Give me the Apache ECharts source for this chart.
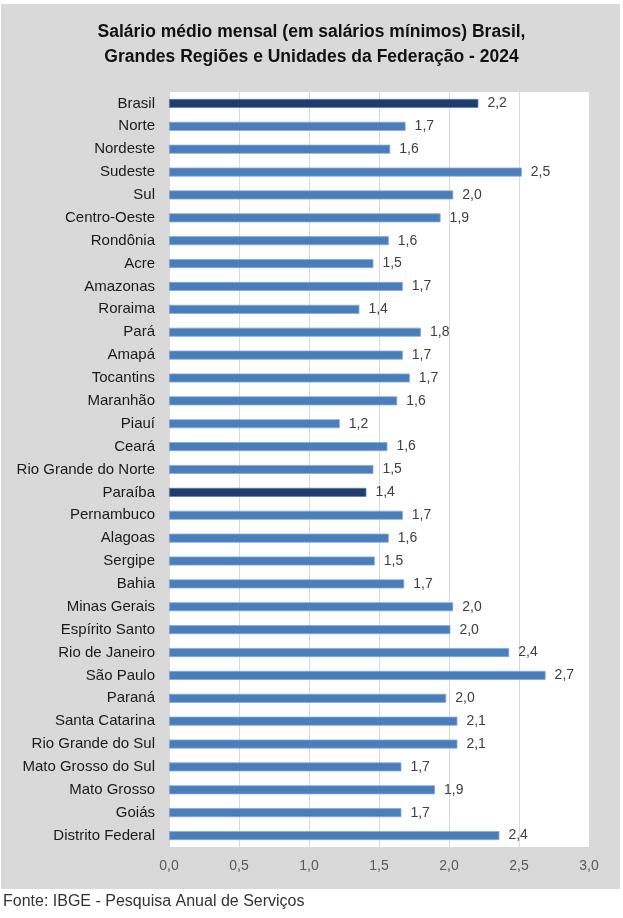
<!DOCTYPE html>
<html lang="pt">
<head>
    <meta charset="UTF-8">
    <title>Salário médio mensal</title>
    <style>
        html, body { margin: 0; padding: 0; background: #fff; }
        #chart { width: 623px; height: 918px; }
    </style>
    <script src="https://cdn.jsdelivr.net/npm/echarts@6/dist/echarts.min.js"></script>
</head>
<body>
    <div id="chart"></div>
    <script>
        // dados
        var regioes = ['Brasil', 'Norte', 'Nordeste', 'Sudeste', 'Sul', 'Centro-Oeste',
            'Rondônia', 'Acre', 'Amazonas', 'Roraima', 'Pará', 'Amapá', 'Tocantins',
            'Maranhão', 'Piauí', 'Ceará', 'Rio Grande do Norte', 'Paraíba', 'Pernambuco',
            'Alagoas', 'Sergipe', 'Bahia', 'Minas Gerais', 'Espírito Santo', 'Rio de Janeiro',
            'São Paulo', 'Paraná', 'Santa Catarina', 'Rio Grande do Sul', 'Mato Grosso do Sul',
            'Mato Grosso', 'Goiás', 'Distrito Federal'];
        var salarios = [2.21, 1.69, 1.58, 2.52, 2.03, 1.94,
            1.57, 1.46, 1.67, 1.36, 1.80, 1.67, 1.72,
            1.63, 1.22, 1.56, 1.46, 1.41, 1.67,
            1.57, 1.47, 1.68, 2.03, 2.01, 2.43,
            2.69, 1.98, 2.06, 2.06, 1.66,
            1.90, 1.66, 2.36];
        var destaques = ['Brasil', 'Paraíba'];
        var xTicks = [0, 0.5, 1, 1.5, 2, 2.5, 3];

        function virgula(v) {
            return v.toFixed(1).replace('.', ',');
        }

        var chart = echarts.init(document.getElementById('chart'));

        var dados = salarios.map(function (v, i) {
            var item = { value: v };
            if (destaques.indexOf(regioes[i]) >= 0) {
                item.itemStyle = { color: '#1f3e6e', borderColor: '#5d7fae' };
            }
            return item;
        });

        var option = {
            backgroundColor: '#fff',
            animation: false,
            textStyle: { fontFamily: 'Liberation Sans' },
            graphic: [
                {
                    type: 'rect', z: -10,
                    shape: { x: 1, y: 4, width: 619, height: 885 },
                    style: { fill: '#d9d9d9' }
                },
                {
                    type: 'text', left: 3, top: 894,
                    style: {
                        text: 'Fonte: IBGE - Pesquisa Anual de Serviços',
                        fill: '#333', font: '16px "Liberation Sans"'
                    }
                }
            ],
            title: {
                text: 'Salário médio mensal (em salários mínimos) Brasil,\nGrandes Regiões e Unidades da Federação - 2024',
                left: 'center',
                top: 15,
                textStyle: {
                    fontSize: 17.5, fontWeight: 'bold', color: '#111',
                    lineHeight: 25, fontFamily: 'Liberation Sans'
                }
            },
            grid: {
                left: 169, right: 34, top: 92, bottom: 71,
                show: true, backgroundColor: '#fff', borderWidth: 0,
                containLabel: false
            },
            xAxis: {
                type: 'value',
                min: xTicks[0],
                max: xTicks[xTicks.length - 1],
                interval: 0.5,
                axisLine: { show: false },
                axisTick: { show: false },
                splitLine: { lineStyle: { color: '#d9d9d9', width: 1 } },
                axisLabel: {
                    margin: 12, fontSize: 14, color: '#595959',
                    formatter: function (v) { return virgula(v); }
                }
            },
            yAxis: {
                type: 'category',
                data: regioes,
                inverse: true,
                axisLine: { show: false },
                axisTick: { show: false },
                axisLabel: { margin: 14, fontSize: 15, color: '#1a1a1a' }
            },
            series: [{
                type: 'bar',
                data: dados,
                barWidth: 9,
                itemStyle: { color: '#4a7ebb', borderColor: '#86a9d6', borderWidth: 0.8 },
                label: {
                    show: true, position: 'right', distance: 9,
                    fontSize: 14, color: '#404040',
                    formatter: function (p) { return virgula(p.value); }
                }
            }]
        };

        chart.setOption(option);
    </script>
</body>
</html>
